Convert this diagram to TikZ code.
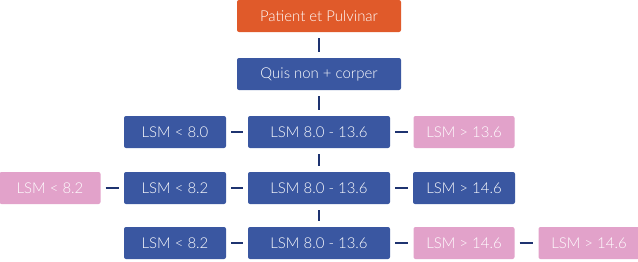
\documentclass[tikz,border=0pt]{standalone}
\usepackage{fontspec}
\setmainfont{Lato}[UprightFont=* Light]
\definecolor{rootorange}{HTML}{E05A2A}
\definecolor{stepblue}{HTML}{3A57A1}
\definecolor{sidepink}{HTML}{E2A2CA}
\definecolor{wirenavy}{HTML}{1E3370}
\tikzset{
	box/.style={rectangle, rounded corners=2bp, minimum height=32bp, inner sep=0pt, text=white, font=\fontsize{15}{17}\selectfont},
	wide/.style={box, minimum width=164bp},
	mid/.style={box, fill=stepblue, minimum width=142bp},
	side/.style={box, fill=stepblue, minimum width=102bp},
	pinkside/.style={box, fill=sidepink, minimum width=101bp},
	wire/.style={draw=wirenavy, line width=2.6bp, shorten <=6bp, shorten >=6bp},
}

\begin{document}
\begin{tikzpicture}[x=1bp, y=1bp]
	\useasboundingbox (0, 0) rectangle (638, 261);
	% Nodes:
	\node[wide, fill=rootorange](N0) at (319, 245){Patient et Pulvinar};
	\node[wide, fill=stepblue](N1) at (319, 187){Quis non + corper};
	\node[side](A1) at (175, 129){LSM < 8.0};
	\node[mid](B1) at (319, 129){LSM 8.0 - 13.6};
	\node[pinkside](C1) at (464, 129){LSM > 13.6};
	\node[pinkside](P2) at (50, 73){LSM < 8.2};
	\node[side](A2) at (175, 73){LSM < 8.2};
	\node[mid](B2) at (319, 73){LSM 8.0 - 13.6};
	\node[side](C2) at (464, 73){LSM > 14.6};
	\node[side](A3) at (175, 18){LSM < 8.2};
	\node[mid](B3) at (319, 18){LSM 8.0 - 13.6};
	\node[pinkside](C3) at (464, 18){LSM > 14.6};
	\node[pinkside](D3) at (589, 18){LSM > 14.6};
	% Wires:
	\draw[wire] (N0) -- (N1);
	\draw[wire] (N1) -- (B1);
	\draw[wire] (B1) -- (B2);
	\draw[wire] (B2) -- (B3);
	\draw[wire, shorten <=5bp, shorten >=5bp] (A1) -- (B1);
	\draw[wire, shorten <=5bp, shorten >=5bp] (B1) -- (C1);
	\draw[wire, shorten <=5bp, shorten >=5bp] (P2) -- (A2);
	\draw[wire, shorten <=5bp, shorten >=5bp] (A2) -- (B2);
	\draw[wire, shorten <=5bp, shorten >=5bp] (B2) -- (C2);
	\draw[wire, shorten <=5bp, shorten >=5bp] (A3) -- (B3);
	\draw[wire, shorten <=5bp, shorten >=5bp] (B3) -- (C3);
	\draw[wire, shorten <=5bp, shorten >=5bp] (C3) -- (D3);
\end{tikzpicture}
\end{document}
